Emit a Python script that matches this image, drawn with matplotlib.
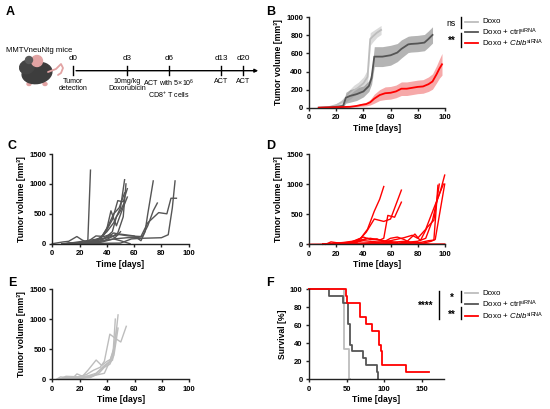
import numpy as np
import matplotlib
matplotlib.use("Agg")
import matplotlib.pyplot as plt
from matplotlib.patches import Ellipse, Circle, FancyArrowPatch

plt.rcParams['font.family'] = ['Liberation Sans', 'DejaVu Sans']
plt.rcParams['mathtext.fontset'] = 'custom'
plt.rcParams['mathtext.rm'] = 'Liberation Sans'
plt.rcParams['mathtext.it'] = 'Liberation Sans:italic'
plt.rcParams['mathtext.bf'] = 'Liberation Sans:bold'

LIGHT = "#bdbdbd"
DARK = "#555555"
RED = "#ff0000"

# ---- panel A: schedule
timeline_days = ["d0", "d3", "d6", "d13", "d20"]
timeline_events = ["Tumor\ndetection", "10mg/kg\nDoxorubicin",
                   "ACT with 5×10$^{6}$\nCD8$^{+}$ T cells", "ACT", "ACT"]

# ---- panel B: mean +- sem
doxo_t = [7, 14, 20, 24, 27, 30, 33, 36, 40, 43, 45, 47, 50, 53]
doxo_m = [0, 5, 30, 60, 100, 150, 190, 220, 270, 340, 760, 790, 830, 860]
doxo_s = [0, 5, 15, 30, 40, 55, 60, 60, 70, 80, 70, 60, 50, 50]

ctrl_t = [7, 15, 20, 25, 27, 30, 35, 40, 44, 46, 48, 54, 60, 65, 68, 73, 75, 80, 85, 88, 91]
ctrl_m = [0, 5, 10, 20, 110, 130, 150, 180, 240, 330, 565, 565, 580, 610, 650, 700, 705, 710, 720, 760, 805]
ctrl_s = [0, 5, 10, 15, 60, 70, 70, 60, 60, 70, 110, 110, 110, 100, 100, 90, 90, 90, 90, 90, 90]

cblb_t = [7, 20, 30, 35, 38, 42, 45, 48, 52, 56, 60, 64, 68, 72, 76, 80, 84, 88, 91, 94, 96, 98]
cblb_m = [0, 5, 10, 20, 30, 40, 60, 100, 140, 160, 165, 180, 210, 210, 220, 230, 235, 260, 290, 370, 430, 480]
cblb_s = [0, 3, 5, 10, 15, 20, 30, 50, 60, 70, 70, 70, 75, 75, 75, 75, 75, 80, 85, 95, 105, 120]

# ---- panel C: Doxo + ctrl siRNA individual mice (days, volume)
ctrl_mice = [
    ([0, 8, 12, 18, 22, 26, 28], [0, 30, 40, 120, 60, 20, 1230]),
    ([7, 20, 30, 35, 40, 45, 50, 53], [0, 10, 50, 100, 200, 350, 600, 1070]),
    ([10, 25, 33, 38, 44, 48, 52, 55], [0, 20, 60, 150, 400, 720, 700, 920]),
    ([10, 25, 35, 40, 43, 47, 51, 55], [0, 15, 80, 250, 550, 300, 550, 780]),
    ([7, 30, 36, 41, 45, 49, 53], [0, 30, 100, 300, 500, 600, 850]),
    ([10, 28, 35, 40, 44, 47, 50, 53], [0, 10, 40, 120, 200, 450, 550, 700]),
    ([10, 30, 38, 44, 48, 52, 54], [0, 20, 50, 120, 180, 450, 1000]),
    ([10, 30, 40, 50, 60, 65, 68, 70, 74], [0, 30, 100, 160, 130, 50, 200, 500, 1050]),
    ([10, 35, 45, 55, 62, 66, 70, 74, 77], [0, 20, 80, 100, 100, 120, 300, 550, 680]),
    ([10, 40, 45, 50, 56, 65, 70, 78, 84, 87, 91], [0, 100, 180, 150, 130, 120, 350, 520, 500, 760, 760]),
    ([10, 50, 58, 65, 80, 85, 88, 90], [0, 10, 80, 90, 100, 150, 600, 1050]),
    ([10, 20, 30, 40, 45, 50, 57], [0, 10, 30, 60, 80, 50, 0]),
    ([10, 25, 32, 38, 42, 46, 50], [0, 20, 130, 120, 150, 100, 200]),
]

# ---- panel D: Doxo + Cblb siRNA individual mice
cblb_mice = [
    ([10, 30, 38, 43, 48, 52, 55], [0, 20, 100, 250, 550, 750, 960]),
    ([10, 35, 42, 48, 55, 60, 63, 68], [0, 30, 200, 420, 380, 420, 600, 900]),
    ([10, 35, 43, 47, 52, 55, 58, 63, 66, 68], [0, 40, 100, 80, 70, 100, 480, 450, 600, 700]),
    ([12, 16, 22, 30, 40, 45, 50, 55, 60, 65, 70, 75], [0, 40, 20, 30, 120, 80, 90, 40, 100, 120, 80, 20]),
    ([10, 40, 50, 60, 70, 76, 80, 86, 92, 99], [0, 20, 30, 60, 110, 150, 100, 250, 600, 1000]),
    ([10, 50, 70, 78, 82, 87, 92, 96], [0, 20, 0, 170, 60, 280, 400, 1000]),
    ([10, 60, 80, 86, 91, 94, 97, 100], [0, 10, 50, 100, 400, 700, 900, 1150]),
    ([10, 70, 82, 88, 92, 95], [0, 10, 30, 60, 70, 980]),
    ([10, 80, 90, 93, 100], [0, 0, 50, 80, 1000]),
    ([0, 30, 60, 100], [0, 5, 5, 5]),
    ([10, 30, 40, 50, 60, 70, 80, 88], [0, 20, 60, 40, 30, 50, 20, 0]),
    ([10, 25, 35, 45, 55, 65], [0, 30, 60, 100, 60, 30]),
]

# ---- panel E: Doxo individual mice
doxo_mice = [
    ([3, 6, 10, 15, 18, 22, 26, 32, 36, 40, 44, 46, 48], [0, 40, 30, 20, 90, 50, 150, 320, 230, 300, 350, 650, 1070]),
    ([5, 15, 25, 30, 35, 38, 42, 46, 50, 54], [0, 10, 80, 150, 200, 300, 750, 680, 620, 880]),
    ([5, 15, 25, 32, 38, 42, 45, 47], [0, 30, 50, 100, 230, 300, 500, 850]),
    ([5, 20, 28, 34, 38, 42, 45, 48], [0, 20, 30, 100, 200, 250, 400, 850]),
    ([5, 20, 30, 35, 40, 44, 46], [0, 10, 60, 150, 250, 320, 1000]),
    ([5, 10, 20, 30, 38, 42, 46], [0, 50, 40, 60, 100, 300, 600]),
]

# ---- panel F: survival (%)
surv_doxo_t = [0, 47, 53, 55]
surv_doxo_p = [100, 33.3, 0, 0]
surv_ctrl_t = [0, 27, 45, 52, 54, 57, 72, 75, 90, 92]
surv_ctrl_p = [100, 92.3, 84.6, 61.5, 38.5, 30.8, 23.1, 15.4, 7.7, 0]
surv_cblb_t = [0, 49, 51, 67, 76, 83, 93, 95.5, 97, 99, 128, 159]
surv_cblb_p = [100, 92.3, 84.6, 69.2, 61.5, 53.8, 38.5, 30.8, 15.4, 15.4, 7.7, 7.7]

W, H = 550, 409
fig = plt.figure(figsize=(W / 100, H / 100), dpi=100)


def px_axes(x0, y_top, x1, y_bot):
    return fig.add_axes([x0 / W, 1 - y_bot / H, (x1 - x0) / W, (y_bot - y_top) / H])


def style(ax, xlim, ylim, xticks, yticks, ylabel):
    ax.set_xlim(*xlim)
    ax.set_ylim(*ylim)
    ax.set_xticks(xticks)
    ax.set_yticks(yticks)
    for s in ["top", "right"]:
        ax.spines[s].set_visible(False)
    for s in ["left", "bottom"]:
        ax.spines[s].set_linewidth(1.0)
        ax.spines[s].set_color("#222222")
    ax.tick_params(width=1.0, length=2.5, labelsize=5.5, pad=2, color="#222222")
    for lab in ax.get_xticklabels() + ax.get_yticklabels():
        lab.set_fontweight("bold")
    ax.set_xlabel("Time [days]", fontsize=6.2, fontweight="bold", labelpad=2)
    ax.set_ylabel(ylabel, fontsize=6.2, fontweight="bold", labelpad=2)
    ax.patch.set_alpha(0)


vol_label = "Tumor volume [mm³]"

# B
axB = px_axes(309.3, 17.3, 444.7, 107.7)
for t, m, s, c, fc, a in [(doxo_t, doxo_m, doxo_s, LIGHT, "#d2d2d2", 0.8),
                          (ctrl_t, ctrl_m, ctrl_s, DARK, "#8c8c8c", 0.65),
                          (cblb_t, cblb_m, cblb_s, RED, "#f07070", 0.6)]:
    t = np.array(t); m = np.array(m); s = np.array(s)
    axB.fill_between(t, m - s, m + s, color=fc, alpha=a, lw=0)
    axB.plot(t, m, color=c, lw=1.3)
style(axB, (0, 100), (0, 1000), range(0, 101, 20), range(0, 1001, 200), vol_label)

# C, D, E
for rect, mice, col in [((52.3, 154, 188.7, 243.7), ctrl_mice, DARK),
                        ((309.3, 154, 444.7, 244.3), cblb_mice, RED),
                        ((52.3, 289, 189.3, 379.3), doxo_mice, LIGHT)]:
    ax = px_axes(*rect)
    for d, v in mice:
        ax.plot(d, v, color=col, lw=1.0, clip_on=False)
    style(ax, (0, 100), (0, 1500), range(0, 101, 20), range(0, 1501, 500), vol_label)

# F
axF = px_axes(309, 289, 444, 379.3)
for t, p, c in [(surv_doxo_t, surv_doxo_p, LIGHT), (surv_ctrl_t, surv_ctrl_p, DARK),
                (surv_cblb_t, surv_cblb_p, RED)]:
    axF.step(t, p, where="post", color=c, lw=1.3, clip_on=False)
style(axF, (0, 179), (0, 100), [0, 50, 100, 150], range(0, 101, 20), "Survival [%]")

# overlay in pixel coordinates for schematic, legends and panel letters
ov = fig.add_axes([0, 0, 1, 1])
ov.set_xlim(0, W)
ov.set_ylim(H, 0)
ov.axis("off")
ov.patch.set_alpha(0)

for letter, x, y in [("A", 6, 12), ("B", 266, 12), ("C", 8, 146), ("D", 266, 146),
                     ("E", 8, 283), ("F", 266, 283)]:
    ov.text(x, y, letter, fontsize=9, fontweight="bold", va="center", ha="left")

# mouse
pink = "#e2a3a3"
ov.plot([48, 56, 61, 63, 61, 58], [72, 69, 64, 68, 73, 75], color=pink, lw=1.3,
        solid_capstyle="round")
ov.add_patch(Ellipse((29, 84), 4, 3, color=pink))
ov.add_patch(Ellipse((45, 84), 4, 3, color=pink))
ov.add_patch(Ellipse((37, 73), 30, 21, angle=-10, color="#3d3d3d"))
ov.add_patch(Ellipse((27, 67), 15, 13, angle=-25, color="#444444"))
ov.add_patch(Circle((37, 61), 5.5, color=pink))
ov.add_patch(Circle((29, 60), 3.5, color="#5a5a5a"))
ov.text(6, 50, "MMTVneuNtg mice", fontsize=5.6, va="center", ha="left")

# timeline
tick_x = [73.3, 127.3, 168.7, 221, 243.3]
ov.add_patch(FancyArrowPatch((73.3, 70.7), (261, 70.7), arrowstyle="-|>", mutation_scale=5,
                             lw=1.0, color="black"))
for x, d, ev in zip(tick_x, timeline_days, timeline_events):
    ov.plot([x, x], [66, 75], color="black", lw=1.0)
    ov.text(x, 59, d, fontsize=5.8, ha="center", va="center")
    ov.text(x, 78, ev, fontsize=5.1, ha="center", va="top", linespacing=1.0)

# legends
leg_labels = ["Doxo", "Doxo + ctrl$^{\\mathrm{siRNA}}$", "Doxo + $\\mathit{Cblb}^{\\mathrm{siRNA}}$"]
leg_cols = [LIGHT, DARK, RED]
for rows_y in ([21.7, 32.3, 43.3], [293.3, 304.3, 316]):
    for y, lab, c in zip(rows_y, leg_labels, leg_cols):
        ov.plot([465, 478], [y, y], color=c, lw=1.3)
        ov.text(482, y, lab, fontsize=5.7, va="center", ha="left")

# significance brackets
ov.plot([460.7, 460.7], [17, 28], color="black", lw=1.0)
ov.plot([460.7, 460.7], [33, 47], color="black", lw=1.0)
ov.text(451, 23.5, "ns", fontsize=6.2, ha="center", va="center")
ov.text(452, 41, "**", fontsize=7, ha="center", va="center", fontweight="bold")

ov.plot([460.7, 460.7], [290.7, 301.7], color="black", lw=1.0)
ov.plot([460.7, 460.7], [306.7, 319.3], color="black", lw=1.0)
ov.plot([439.3, 439.3], [290.7, 319.3], color="black", lw=1.0)
ov.text(452, 298, "*", fontsize=7, ha="center", va="center", fontweight="bold")
ov.text(452, 315, "**", fontsize=7, ha="center", va="center", fontweight="bold")
ov.text(426, 306, "****", fontsize=7, ha="center", va="center", fontweight="bold")

fig.savefig("out.png", dpi=100)
